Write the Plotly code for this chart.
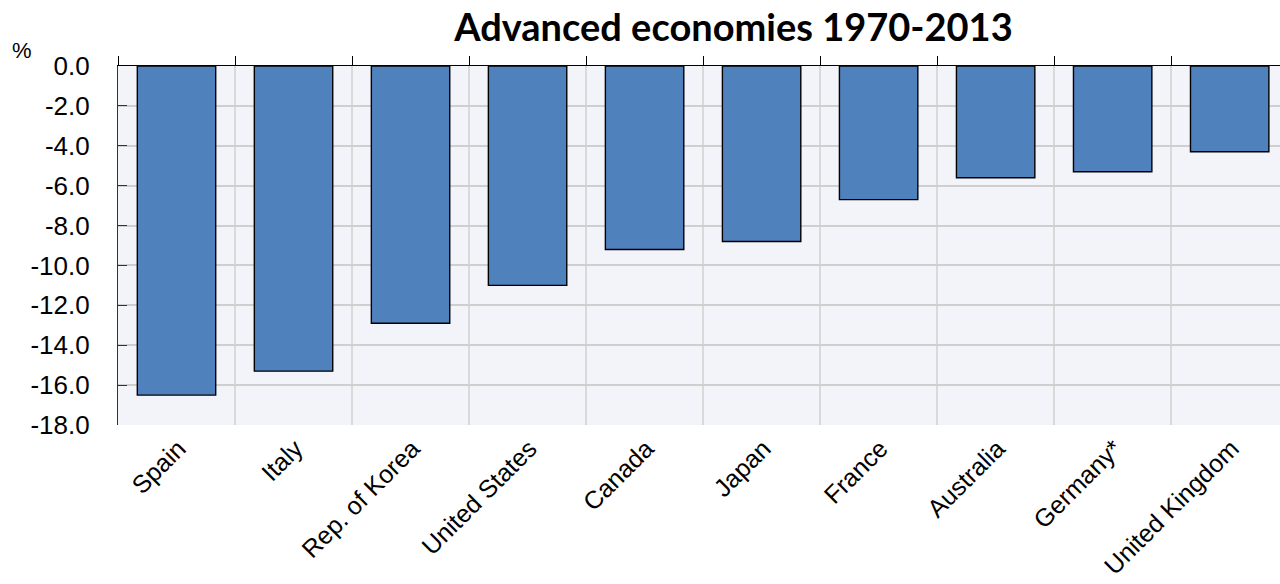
import plotly.graph_objects as go

countries = ["Spain", "Italy", "Rep. of Korea", "United States", "Canada",
             "Japan", "France", "Australia", "Germany*", "United Kingdom"]
values = [-16.5, -15.3, -12.9, -11.0, -9.2, -8.8, -6.7, -5.6, -5.3, -4.3]
ytick_vals = [0, -2, -4, -6, -8, -10, -12, -14, -16, -18]
ytick_text = ["0.0", "-2.0", "-4.0", "-6.0", "-8.0", "-10.0", "-12.0", "-14.0", "-16.0", "-18.0"]

FONT = "Liberation Sans, Arial, sans-serif"
xr = [-0.5, 9.43]

fig = go.Figure()
fig.add_trace(go.Bar(
    x=countries, y=values,
    marker=dict(color="#4f81bd", line=dict(color="#000000", width=1.4)),
    hoverinfo="x+y",
))
# invisible helper trace for the top axis (zero line with boundary ticks)
fig.add_trace(go.Scatter(
    x=countries, y=[0] * len(countries), xaxis="x2",
    mode="markers", marker=dict(opacity=0), hoverinfo="skip", showlegend=False,
))

fig.update_layout(
    width=1280, height=584,
    margin=dict(l=118, r=0, t=66, b=159),
    paper_bgcolor="white",
    plot_bgcolor="#f2f4f9",
    showlegend=False,
    bargap=0.33,
    title=dict(text="<b>Advanced economies 1970-2013</b>",
               font=dict(family="Lato, sans-serif", size=38, color="#000000"),
               x=0.573, xanchor="center", y=0.952, yanchor="middle"),
    xaxis=dict(
        type="category", categoryorder="array", categoryarray=countries,
        range=xr, tickson="boundaries", ticks="", showline=False,
        showgrid=True, gridcolor="#d9d9d9", gridwidth=1.5,
        tickangle=-45, tickfont=dict(family=FONT, size=25, color="#000000"),
        ticklabelshift=2, ticklabelstandoff=3,
        zeroline=False, automargin=False,
    ),
    xaxis2=dict(
        type="category", categoryorder="array", categoryarray=countries,
        overlaying="x", side="top", anchor="y", range=xr,
        tickson="boundaries", ticks="outside", ticklen=9, tickwidth=1.2,
        tickcolor="#000000", showline=True, linecolor="#000000", linewidth=1.2,
        showticklabels=False, showgrid=False, zeroline=False, automargin=False,
    ),
    yaxis=dict(
        range=[-18, 0], tickvals=ytick_vals, ticktext=ytick_text,
        ticks="inside", ticklen=9, tickwidth=1.2, tickcolor="#333333",
        showline=True, linecolor="#333333", linewidth=1.2,
        showgrid=True, gridcolor="#cfcfcf", gridwidth=1.5,
        zeroline=False, automargin=False,
        tickfont=dict(family=FONT, size=26, color="#000000"),
        ticklabelstandoff=22,
    ),
    annotations=[dict(text="%", showarrow=False, xref="paper", yref="paper",
                      x=(22 - 118) / 1162, y=(584 - 159 - 50) / 359,
                      xanchor="center", yanchor="middle",
                      font=dict(family=FONT, size=22, color="#000000"))],
)

fig.write_html("out.html")
